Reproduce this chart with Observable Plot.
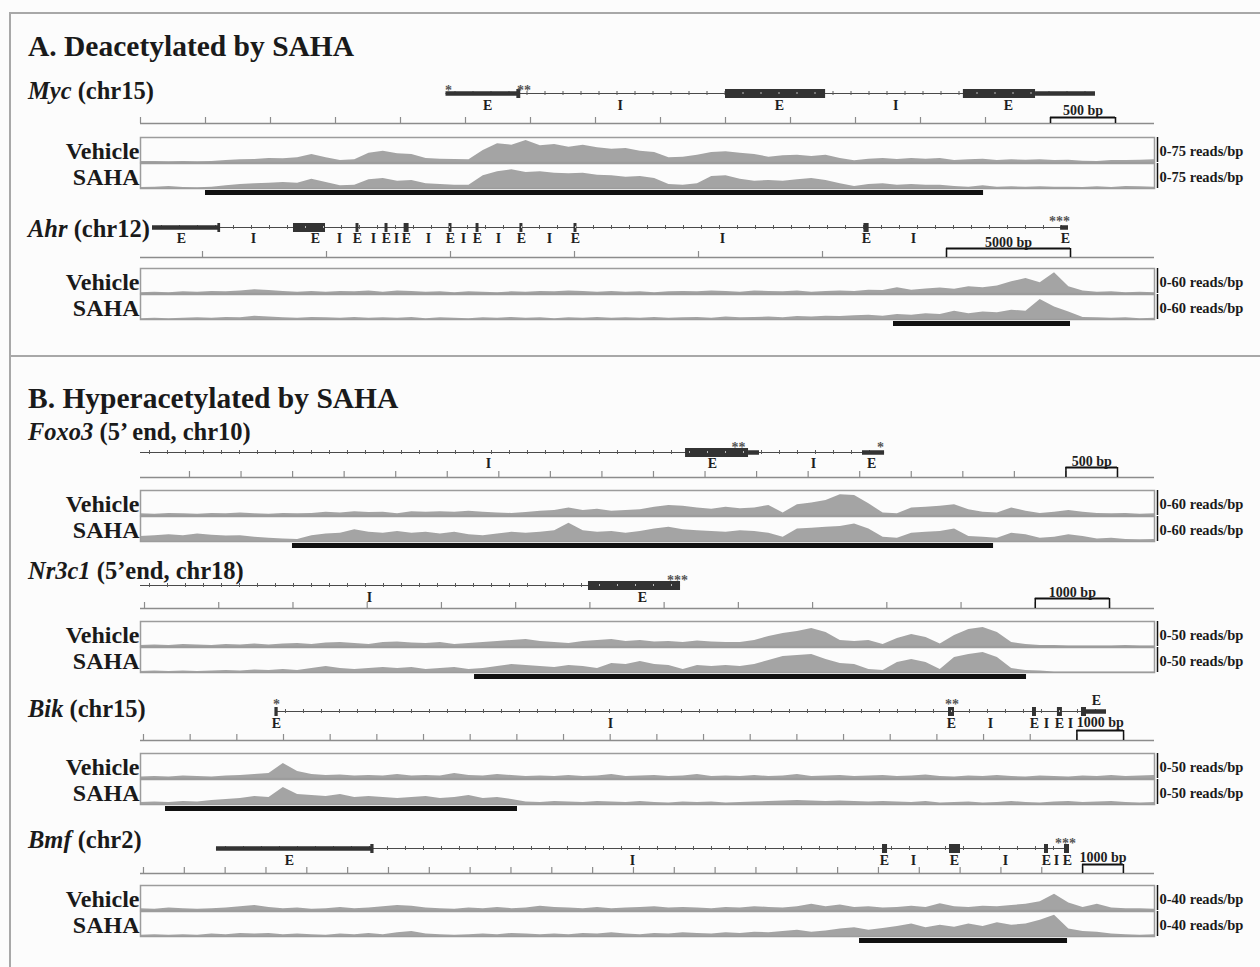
<!DOCTYPE html>
<html><head><meta charset="utf-8">
<script src="https://cdn.jsdelivr.net/npm/d3@7"></script>
<script src="https://cdn.jsdelivr.net/npm/@observablehq/plot@0.6"></script>
<style>
body{margin:0;background:#fcfcfc;}
#fig{position:relative;width:1260px;height:967px;overflow:hidden;font-family:"Liberation Serif","Times New Roman",serif;color:#1a1a1a;}
.ptitle{position:absolute;left:28px;font:bold 29.5px/29.5px "Liberation Serif",serif;white-space:nowrap;}
.gname{position:absolute;left:28px;font:bold 24.5px/24.5px "Liberation Serif",serif;white-space:nowrap;}
.line{position:absolute;border-color:#a8a8a8;border-style:solid;border-width:0;}
</style></head><body><div id="fig"></div>
<script>
// ---------------- DATA (genomic coordinates in bp, coverage in reads/bp) ----------------
const panelTitles = ["A. Deacetylated by SAHA", "B. Hyperacetylated by SAHA"];
const sampleNames = ["Vehicle", "SAHA"];

// Myc (chr15)
const mycLength = 7800;
const mycSpan = [2350, 7346];
const mycExons = [
  {start: 2350, end: 2900, kind: "utr"}, {start: 2895, end: 2925, kind: "cds"},
  {start: 4500, end: 5270, kind: "cds"}, {start: 6330, end: 6885, kind: "cds"},
  {start: 6885, end: 7346, kind: "utr"}];
const mycLabels = [{pos: 2670, t: "E"}, {pos: 3690, t: "I"}, {pos: 4915, t: "E"}, {pos: 5810, t: "I"}, {pos: 6677, t: "E"}];
const mycStars = [{pos: 2370, t: "*"}, {pos: 2950, t: "**"}];
const mycScale = [7000, 7500];
const mycVehicle = [3,3,2,3,2,3,6,8,9,12, 11,14,24,14,6,8,28,34,26,24, 12,10,9,8,36,56,52,66,50,54, 46,52,44,40,42,34,30,14,16,22, 30,32,28,24,16,20,22,18,22,12, 5,10,12,9,12,10,12,6,8,10, 6,8,7,8,6,7,4,3,6,6, 7,8];
const mycSaha = [3,4,6,3,2,4,8,12,14,16, 18,16,28,18,8,10,26,30,22,24, 14,12,10,10,38,50,56,48,50,46, 44,46,40,38,34,36,30,12,10,14, 36,38,28,22,24,22,26,30,24,14, 6,12,14,10,12,10,10,6,4,8, 4,5,4,5,4,4,3,5,3,6, 5,4];
const mycRegion = [500, 6485];

// Ahr (chr12)
const ahrLength = 40887;
const ahrSpan = [484, 37419];
const ahrExons = [
  {start: 484, end: 3185, kind: "utr"}, {start: 3120, end: 3230, kind: "cds"},
  {start: 6169, end: 7460, kind: "cds"}, {start: 8690, end: 8810, kind: "cds"},
  {start: 9860, end: 9980, kind: "cds"}, {start: 10630, end: 10830, kind: "cds"},
  {start: 12440, end: 12560, kind: "cds"}, {start: 13530, end: 13650, kind: "cds"},
  {start: 15300, end: 15420, kind: "cds"}, {start: 17480, end: 17600, kind: "cds"},
  {start: 29170, end: 29380, kind: "cds"}, {start: 37100, end: 37420, kind: "utr"}];
const ahrLabels = [{pos:1653,t:"E"},{pos:4556,t:"I"},{pos:7056,t:"E"},{pos:8024,t:"I"},{pos:8750,t:"E"},{pos:9395,t:"I"},{pos:9919,t:"E"},{pos:10323,t:"I"},{pos:10726,t:"E"},{pos:11613,t:"I"},{pos:12500,t:"E"},{pos:13024,t:"I"},{pos:13589,t:"E"},{pos:14435,t:"I"},{pos:15363,t:"E"},{pos:16492,t:"I"},{pos:17540,t:"E"},{pos:23468,t:"I"},{pos:29274,t:"E"},{pos:31169,t:"I"},{pos:37298,t:"E"}];
const ahrStars = [{pos: 37056, t: "***"}];
const ahrScale = [32500, 37500];
const ahrVehicle = [2,3,2,4,3,5,4,6,9,7, 5,3,5,3,5,4,6,3,6,5, 3,4,2,4,3,2,4,3,5,4, 6,5,3,5,3,4,2,4,5,4, 6,5,3,6,5,4,6,3,5,6, 5,8,7,14,8,11,13,10,16,14, 18,28,36,26,50,16,6,3,4,2, 3,2];
const ahrSaha = [2,3,2,3,4,3,5,4,8,6, 4,3,5,4,3,5,3,4,3,5, 2,4,3,2,4,3,5,3,4,2, 4,3,5,3,4,3,5,3,4,5, 3,6,4,5,6,4,7,6,8,7, 9,10,8,12,10,14,12,20,14,18, 16,22,20,48,30,18,5,4,3,4, 2,3];
const ahrRegion = [30363, 37500];

// Foxo3 (5' end, chr10)
const foxo3Length = 9834;
const foxo3Span = [0, 7216];
const foxo3Exons = [{start: 5286, end: 5897, kind: "cds"}, {start: 5897, end: 6003, kind: "utr"}, {start: 7002, end: 7216, kind: "utr"}];
const foxo3Labels = [{pos: 3375, t: "I"}, {pos: 5547, t: "E"}, {pos: 6527, t: "I"}, {pos: 7090, t: "E"}];
const foxo3Stars = [{pos: 5800, t: "**"}, {pos: 7177, t: "*"}];
const foxo3Scale = [8975, 9475];
const foxo3Vehicle = [4,3,5,4,3,5,4,6,4,3, 5,4,5,8,6,9,7,8,4,9, 8,9,8,10,8,6,5,7,10,12, 18,12,15,10,12,14,20,24,22,18, 15,20,16,18,24,6,26,30,36,50, 48,28,6,4,18,20,22,26,14,8, 6,18,10,5,8,12,8,5,4,5, 3,4];
const foxo3Saha = [12,14,16,14,18,15,13,14,10,8, 6,5,14,18,20,28,22,20,24,20, 22,18,22,16,14,18,22,20,22,26, 44,26,22,24,20,24,30,34,28,26, 24,22,26,24,20,10,30,32,34,36, 42,30,10,8,20,22,24,30,12,10, 8,20,16,8,10,16,12,6,8,5, 4,5];
const foxo3Region = [1474, 8273];

// Nr3c1 (5'end, chr18)
const nr3c1Length = 13660;
const nr3c1Span = [0, 7275];
const nr3c1Exons = [{start: 6035, end: 7275, kind: "cds"}];
const nr3c1Labels = [{pos: 3085, t: "I"}, {pos: 6763, t: "E"}];
const nr3c1Stars = [{pos: 7234, t: "***"}];
const nr3c1Scale = [12054, 13054];
const nr3c1Vehicle = [2,3,2,4,3,2,4,3,5,3, 5,6,4,7,8,6,4,8,9,7, 6,8,4,6,8,10,12,14,10,8, 6,10,12,14,10,12,9,10,8,11, 9,8,8,12,20,26,30,36,28,12, 10,12,4,16,24,18,5,22,34,38, 28,8,4,2,2,1,1,1,1,2, 1,1];
const nr3c1Saha = [2,3,2,3,2,3,4,3,5,4, 6,4,8,12,8,6,8,10,8,10, 6,8,10,6,8,12,16,14,12,10, 14,12,8,18,16,22,16,14,6,14, 12,14,12,16,24,32,34,36,26,18, 16,6,4,20,26,20,6,30,36,40, 30,8,4,3,1,1,1,1,1,1, 1,1];
const nr3c1Region = [4500, 11936];

// Bik (chr15)
const bikLength = 21727;
const bikSpan = [2914, 20699];
const bikExons = [
  {start: 2880, end: 2950, kind: "cds"}, {start: 17313, end: 17442, kind: "cds"},
  {start: 19113, end: 19198, kind: "cds"}, {start: 19647, end: 19754, kind: "cds"},
  {start: 20163, end: 20270, kind: "cds"}, {start: 20270, end: 20699, kind: "utr"}];
const bikLabels = [{pos:2914,t:"E"},{pos:10071,t:"I"},{pos:17377,t:"E"},{pos:18213,t:"I"},{pos:19156,t:"E"},{pos:19413,t:"I"},{pos:19692,t:"E"},{pos:19927,t:"I"}];
const bikAbove = [{pos: 20484, t: "E"}];
const bikStars = [{pos: 2914, t: "*"}, {pos: 17390, t: "**"}];
const bikScale = [20064, 21064];
const bikVehicle = [3,4,3,5,4,3,5,6,8,10, 30,14,8,6,7,5,6,5,8,5, 6,5,10,6,5,8,6,4,5,4, 6,4,5,8,4,5,6,4,5,8, 4,5,4,6,4,5,8,4,5,6, 4,5,6,4,5,7,4,3,5,4, 6,4,3,5,4,3,5,4,6,4, 5,6];
const bikSaha = [4,5,4,6,5,8,10,12,16,14, 34,20,18,16,20,14,16,14,12,14, 16,12,14,18,12,14,10,5,4,6, 5,4,6,5,4,6,4,3,5,4, 5,3,4,5,6,7,8,7,6,7, 6,5,6,5,4,6,3,4,5,3, 4,6,4,3,5,6,4,5,6,4, 3,4];
const bikRegion = [536, 8078];

// Bmf (chr2)
const bmfLength = 24834;
const bmfSpan = [1861, 22728];
const bmfExons = [
  {start: 1861, end: 5707, kind: "utr"}, {start: 5640, end: 5720, kind: "cds"},
  {start: 18173, end: 18296, kind: "cds"}, {start: 19814, end: 20083, kind: "cds"},
  {start: 22140, end: 22238, kind: "cds"}, {start: 22630, end: 22753, kind: "cds"}];
const bmfLabels = [{pos:3649,t:"E"},{pos:12050,t:"I"},{pos:18222,t:"E"},{pos:18932,t:"I"},{pos:19936,t:"E"},{pos:21185,t:"I"},{pos:22190,t:"E"},{pos:22434,t:"I"},{pos:22704,t:"E"}];
const bmfStars = [{pos: 22655, t: "***"}];
const bmfScale = [23073, 24073];
const bmfVehicle = [3,2,4,3,2,3,4,6,8,5, 3,4,2,3,5,3,4,6,8,7, 4,3,2,4,3,5,3,4,7,5, 4,3,5,3,4,5,6,4,5,4, 3,5,4,6,5,4,6,10,6,9, 5,6,4,5,7,5,11,6,5,7, 6,8,10,14,26,12,5,10,4,3, 3,2];
const bmfSaha = [2,3,2,3,2,4,3,5,4,5, 3,4,3,2,4,3,5,3,6,8, 4,3,2,3,4,3,5,4,3,4, 3,5,4,6,4,3,5,4,6,5, 4,6,5,7,6,8,10,7,9,12, 14,10,13,16,20,14,18,15,20,16, 22,18,20,26,34,12,8,7,4,3, 2,3];
const bmfRegion = [17610, 22704];

// ---------------- TABLE BUILT FROM THE ARRAYS ----------------
const genes = [
  {id:"myc", name:"Myc", chr:" (chr15)", length:mycLength, span:mycSpan, exons:mycExons, labels:mycLabels, stars:mycStars, above:[], scale:mycScale, scaleLabel:"500 bp", tickStart:0, tickStep:500, max:75, vehicle:mycVehicle, saha:mycSaha, region:mycRegion},
  {id:"ahr", name:"Ahr", chr:" (chr12)", length:ahrLength, span:ahrSpan, exons:ahrExons, labels:ahrLabels, stars:ahrStars, above:[], scale:ahrScale, scaleLabel:"5000 bp", tickStart:2500, tickStep:5000, max:60, vehicle:ahrVehicle, saha:ahrSaha, region:ahrRegion},
  {id:"foxo3", name:"Foxo3", chr:" (5\u2019 end, chr10)", length:foxo3Length, span:foxo3Span, exons:foxo3Exons, labels:foxo3Labels, stars:foxo3Stars, above:[], scale:foxo3Scale, scaleLabel:"500 bp", tickStart:475, tickStep:500, max:60, vehicle:foxo3Vehicle, saha:foxo3Saha, region:foxo3Region},
  {id:"nr3c1", name:"Nr3c1", chr:" (5\u2019end, chr18)", length:nr3c1Length, span:nr3c1Span, exons:nr3c1Exons, labels:nr3c1Labels, stars:nr3c1Stars, above:[], scale:nr3c1Scale, scaleLabel:"1000 bp", tickStart:54, tickStep:1000, max:50, vehicle:nr3c1Vehicle, saha:nr3c1Saha, region:nr3c1Region},
  {id:"bik", name:"Bik", chr:" (chr15)", length:bikLength, span:bikSpan, exons:bikExons, labels:bikLabels, stars:bikStars, above:bikAbove, scale:bikScale, scaleLabel:"1000 bp", tickStart:64, tickStep:1000, max:50, vehicle:bikVehicle, saha:bikSaha, region:bikRegion},
  {id:"bmf", name:"Bmf", chr:" (chr2)", length:bmfLength, span:bmfSpan, exons:bmfExons, labels:bmfLabels, stars:bmfStars, above:[], scale:bmfScale, scaleLabel:"1000 bp", tickStart:73, tickStep:1000, max:40, vehicle:bmfVehicle, saha:bmfSaha, region:bmfRegion}
];

// ---------------- LAYOUT (page pixels) ----------------
const W = 1260, X0 = 140, X1 = 1154;
const FONT = "Liberation Serif";
const titleBase = [57, 409];
const layout = {
  myc:   {nameBase: 99,  top: 76,  star: 90,  above: 88,  gene: 93,  label: 105, barlabel: 110, bar: 117, ruler: 123, vTop: 137, sTop: 163, barTop: 190},
  ahr:   {nameBase: 237, top: 208, star: 221, above: 219, gene: 227, label: 238, barlabel: 242, bar: 248, ruler: 257, vTop: 268, sTop: 294, barTop: 321},
  foxo3: {nameBase: 440, top: 434, star: 447, above: 445, gene: 452, label: 463, barlabel: 461, bar: 467, ruler: 477, vTop: 490, sTop: 516, barTop: 543},
  nr3c1: {nameBase: 579, top: 566, star: 580, above: 578, gene: 585, label: 597, barlabel: 592, bar: 598, ruler: 608, vTop: 621, sTop: 647, barTop: 674},
  bik:   {nameBase: 717, top: 688, star: 704, above: 700, gene: 711, label: 723, barlabel: 722, bar: 730, ruler: 740, vTop: 753, sTop: 779, barTop: 806},
  bmf:   {nameBase: 848, top: 830, star: 843, above: 841, gene: 848, label: 860, barlabel: 857, bar: 864, ruler: 873, vTop: 885, sTop: 911, barTop: 938}
};
const trackH = 25, regionH = 5;

const fig = document.getElementById("fig");
function place(el, top) {
  el.style.position = "absolute";
  el.style.left = "0px";
  el.style.top = top + "px";
  fig.appendChild(el);
}
function addDiv(cls, html, styles) {
  const d = document.createElement("div");
  d.className = cls;
  d.innerHTML = html;
  Object.assign(d.style, styles);
  fig.appendChild(d);
  return d;
}

// borders
addDiv("line", "", {left: "9px", top: "12px", width: "1251px", height: "960px", borderTopWidth: "2px", borderLeftWidth: "2px"});
addDiv("line", "", {left: "9px", top: "355px", width: "1251px", height: "0px", borderTopWidth: "2px"});

// panel titles
panelTitles.forEach((t, i) => addDiv("ptitle", t, {top: (titleBase[i] - 24.7) + "px"}));

const commonStyle = {background: "transparent", overflow: "visible", fontFamily: FONT};

function modelPlot(g, L) {
  const top = L.top, H = L.ruler - top + 3;
  const r = k => L[k] - top;
  const step = 18 * g.length / (X1 - X0);
  const strand = d3.range(g.span[0] + step / 2, g.span[1], step);
  const inCds = p => g.exons.some(e => e.kind === "cds" && p >= e.start && p <= e.end);
  const ticks = d3.range(g.tickStart, g.length + 1, g.tickStep);
  const txt = {fontFamily: FONT, fontWeight: "bold", fill: "#1e1e1e"};
  return Plot.plot({
    width: W, height: H, marginLeft: X0, marginRight: W - X1, marginTop: 0, marginBottom: 0,
    x: {domain: [0, g.length], axis: null},
    y: {domain: [0, H], range: [0, H], axis: null},
    style: commonStyle,
    marks: [
      Plot.ruleY([r("ruler")], {stroke: "#8c8c8c", strokeWidth: 1.6}),
      Plot.ruleX(ticks, {x: d => d, y1: r("ruler") - 6, y2: r("ruler"), stroke: "#8c8c8c", strokeWidth: 1.2}),
      Plot.ruleY([g.span], {x1: d => d[0], x2: d => d[1], y: r("gene"), stroke: "#4a4a4a", strokeWidth: 1.2}),
      Plot.ruleX(strand.filter(p => !inCds(p)), {x: d => d, y1: r("gene") - 2, y2: r("gene") + 2, stroke: "#5a5a5a", strokeWidth: 1}),
      Plot.ruleY(g.exons.filter(e => e.kind === "utr"), {x1: "start", x2: "end", y: r("gene"), stroke: "#333", strokeWidth: 4.5}),
      Plot.ruleY(g.exons.filter(e => e.kind === "cds"), {x1: "start", x2: "end", y: r("gene"), stroke: "#333", strokeWidth: 9}),
      Plot.ruleX(strand.filter(inCds), {x: d => d, y1: r("gene") - 1, y2: r("gene") + 1, stroke: "#bbb", strokeWidth: 1}),
      Plot.text(g.labels, {x: "pos", y: r("label"), text: "t", fontSize: 14, ...txt}),
      Plot.text(g.above, {x: "pos", y: r("above"), text: "t", fontSize: 14, ...txt}),
      Plot.text(g.stars, {x: "pos", y: r("star"), text: "t", fontSize: 14, fontFamily: FONT, fontWeight: "bold", fill: "#555"}),
      Plot.ruleY([g.scale], {x1: d => d[0], x2: d => d[1], y: r("bar"), stroke: "#111", strokeWidth: 2}),
      Plot.ruleX(g.scale, {x: d => d, y1: r("bar"), y2: r("ruler"), stroke: "#111", strokeWidth: 1.5}),
      Plot.text([g.scale], {x: d => (d[0] + d[1]) / 2, y: r("barlabel"), text: () => g.scaleLabel, fontSize: 14, ...txt})
    ]
  });
}

function coveragePlot(g, sample, values) {
  const n = values.length;
  const data = values.map((v, i) => ({pos: i * g.length / (n - 1), reads: v}));
  return Plot.plot({
    width: W, height: trackH + 2, marginLeft: X0, marginRight: W - X1, marginTop: 1, marginBottom: 1,
    x: {domain: [0, g.length], axis: null},
    y: {domain: [0, g.max], axis: null},
    style: commonStyle,
    marks: [
      Plot.areaY(data, {x: "pos", y: "reads", fill: "#a4a4a4"}),
      Plot.frame({stroke: "#9c9c9c", strokeWidth: 1.5}),
      Plot.ruleX([g.length], {dx: 3, stroke: "#111", strokeWidth: 1.5}),
      Plot.text([sample], {frameAnchor: "left", textAnchor: "end", dx: -1, dy: 1, text: d => d, fontFamily: FONT, fontWeight: "bold", fontSize: 24, fill: "#1a1a1a"}),
      Plot.text([`0-${g.max} reads/bp`], {frameAnchor: "right", textAnchor: "start", dx: 5, dy: 1, text: d => d, fontFamily: FONT, fontWeight: "bold", fontSize: 14.5, fill: "#1a1a1a"})
    ]
  });
}

function regionPlot(g) {
  return Plot.plot({
    width: W, height: regionH, marginLeft: X0, marginRight: W - X1, marginTop: 0, marginBottom: 0,
    x: {domain: [0, g.length], axis: null},
    style: commonStyle,
    marks: [Plot.rect([g.region], {x1: d => d[0], x2: d => d[1], fill: "#111"})]
  });
}

genes.forEach(g => {
  const L = layout[g.id];
  addDiv("gname", `<i>${g.name}</i>${g.chr}`, {top: (L.nameBase - 20.5) + "px"});
  place(modelPlot(g, L), L.top);
  place(coveragePlot(g, sampleNames[0], g.vehicle), L.vTop - 1);
  place(coveragePlot(g, sampleNames[1], g.saha), L.sTop - 1);
  place(regionPlot(g), L.barTop);
});
</script></body></html>
